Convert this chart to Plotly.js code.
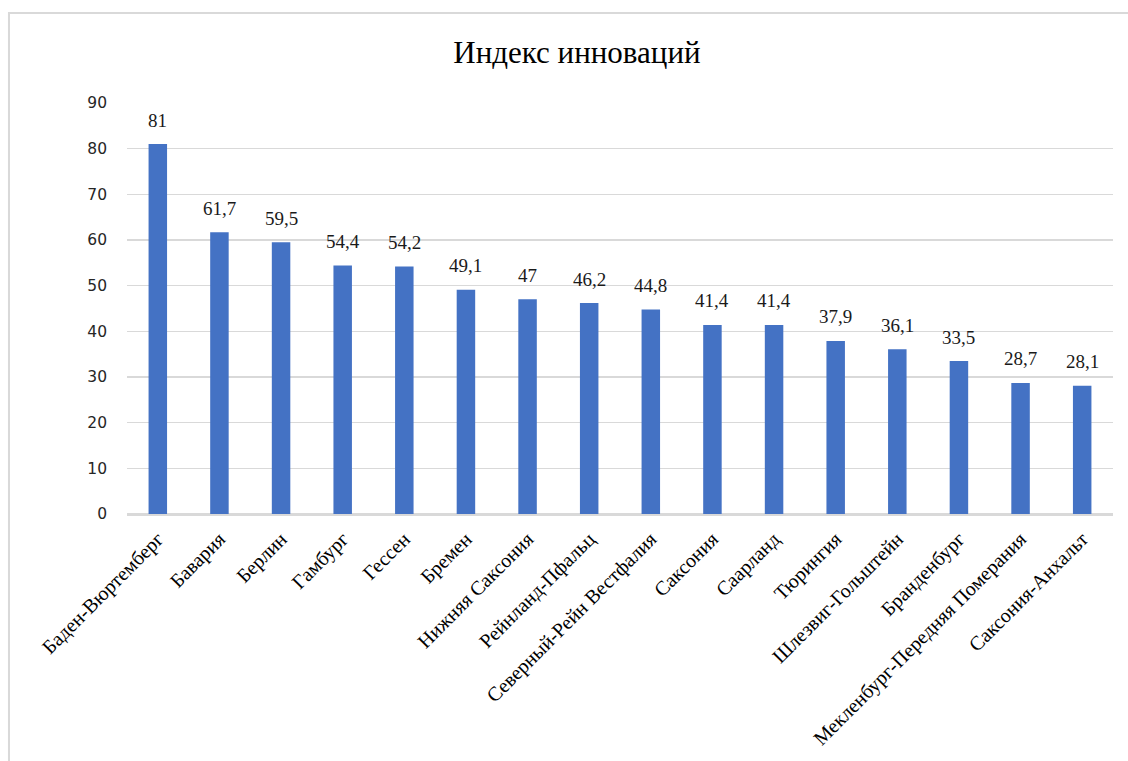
<!DOCTYPE html>
<html>
<head>
<meta charset="utf-8">
<script src="https://cdn.plot.ly/plotly-3.0.1.min.js"></script>
<style>html,body{margin:0;padding:0;background:#fff;}#chart{width:1128px;height:761px;}</style>
</head>
<body>
<div id="chart"></div>
<script>
const regions = ["Баден-Вюртемберг","Бавария","Берлин","Гамбург","Гессен","Бремен","Нижняя Саксония","Рейнланд-Пфальц","Северный-Рейн Вестфалия","Саксония","Саарланд","Тюрингия","Шлезвиг-Гольштейн","Бранденбург","Мекленбург-Передняя Померания","Саксония-Анхальт"];
const values = [81, 61.7, 59.5, 54.4, 54.2, 49.1, 47, 46.2, 44.8, 41.4, 41.4, 37.9, 36.1, 33.5, 28.7, 28.1];
const labels = values.map(v => String(v).replace('.', ','));

const trace = {
  type: 'bar',
  x: regions,
  y: values,
  marker: {color: '#4472C4'},
  width: 0.3,
  hoverinfo: 'x+y'
};

const annotations = regions.map((r, i) => ({
  x: r, y: values[i], xref: 'x', yref: 'y',
  text: labels[i], showarrow: false, yshift: 24,
  font: {family: 'Liberation Serif, serif', size: 19, color: '#1a1a1a'}
}));

const layout = {
  width: 1128, height: 761,
  margin: {l: 127, r: 15, t: 103, b: 247},
  paper_bgcolor: '#ffffff', plot_bgcolor: '#ffffff',
  title: {text: 'Индекс инноваций', font: {family: 'Liberation Serif, serif', size: 31, color: '#000'}, xref: 'container', x: 0.5115, xanchor: 'center', yref: 'container', y: 0.932, yanchor: 'middle'},
  xaxis: {
    tickangle: -45,
    tickfont: {family: 'Liberation Serif, serif', size: 20, color: '#000'},
    showgrid: false, showline: true, linecolor: '#d9d9d9', linewidth: 1.5,
    ticks: '', automargin: false,
    ticklabelstandoff: 4
  },
  yaxis: {
    range: [0, 90], dtick: 10,
    tickfont: {family: 'DejaVu Sans, sans-serif', size: 15.5, color: '#262626'},
    showgrid: true, gridcolor: '#d9d9d9', gridwidth: 1.5,
    zeroline: true, zerolinecolor: '#d9d9d9', zerolinewidth: 1.5,
    ticks: '', ticklen: 0, automargin: false,
    ticklabelstandoff: 19
  },
  annotations: annotations,
  shapes: [{type: 'rect', xref: 'paper', yref: 'paper', x0: -0.1197, x1: 1.2, y0: -0.8, y1: 1.219, line: {color: '#d9d9d9', width: 2}, fillcolor: 'rgba(0,0,0,0)'}],
  showlegend: false,
  bargap: 0.7
};

Plotly.newPlot('chart', [trace], layout, {displayModeBar: false, staticPlot: true});
</script>
</body>
</html>
